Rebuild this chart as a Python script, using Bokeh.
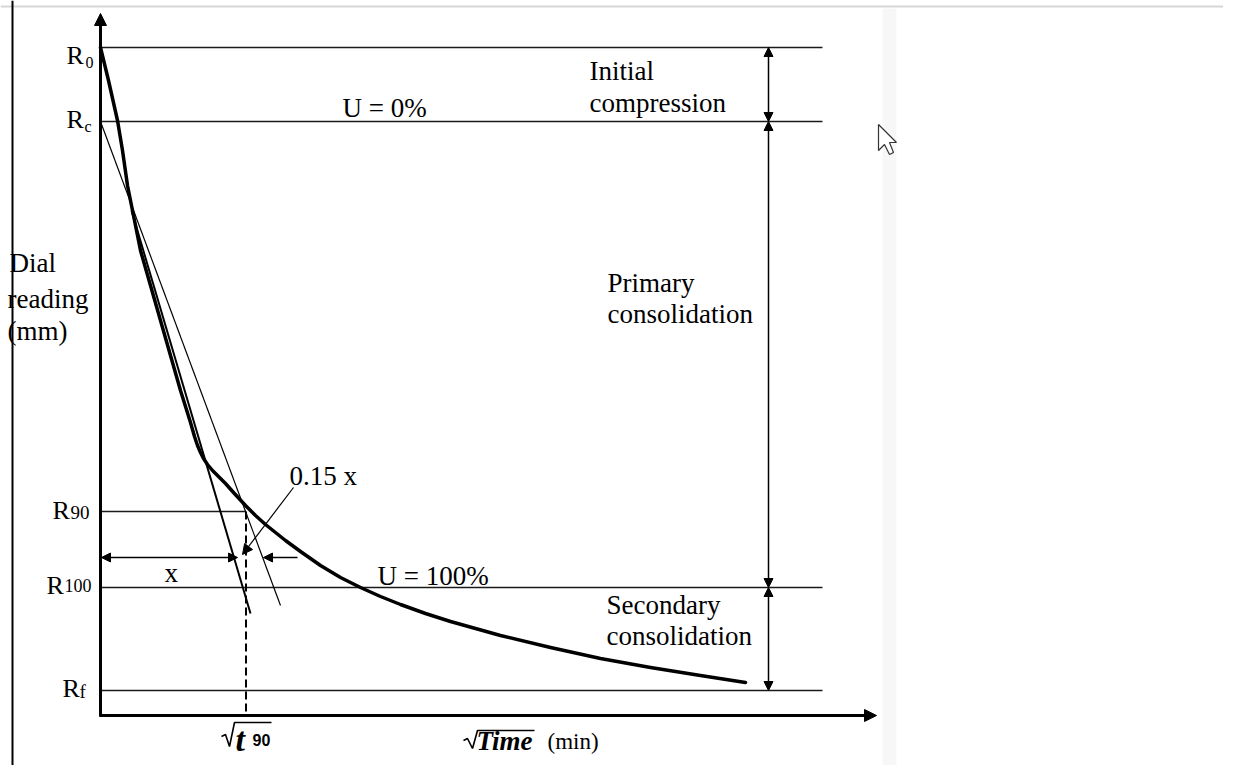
from bokeh.plotting import figure
from bokeh.models import Arrow, NormalHead
from bokeh.core.properties import value
from bokeh.embed import file_html
from bokeh.resources import INLINE

# ---------------- data (diagram units: sqrt-time to the right, dial reading downwards) -------------
LEVEL_NAMES = ["R", "R", "R", "R", "R"]
LEVEL_SUBS = ["0", "c", "90", "100", "f"]
LEVEL_READING = [47, 121, 511, 587, 690]          # R0, Rc, R90, R100, Rf
LEVEL_END = [822, 822, 245, 822, 822]            # where each reading line stops

CURVE_T = [100, 108, 117, 122, 127, 133, 140, 150, 160, 170, 180, 190, 194, 197, 200, 203,
           207, 212, 218, 225, 233, 245, 255, 265, 275, 285, 300, 320, 340, 360, 380, 400,
           425, 450, 475, 500, 550, 600, 650, 700, 745]
CURVE_R = [47, 80, 120, 150, 185, 215, 250, 285, 320, 355, 390, 422, 436, 445, 452, 458,
           464, 470, 476, 483, 492, 505, 515, 524, 532, 540, 551, 565, 577, 587, 596, 604,
           613, 621, 628, 635, 647, 658, 667, 675, 682]

TANGENT_T = [131, 250]      # tangent to initial straight part
TANGENT_R = [210, 613]
CORR_T = [100, 280]         # corrected line (1.15 x slope) from Rc
CORR_R = [121, 605]
T90 = 245.5

ZONE_TEXT = ["Initial", "compression", "Primary", "consolidation", "Secondary", "consolidation"]
NOTE_TEXT = ["U = 0%", "0.15 x", "x", "U = 100%"]
YLABEL = ["Dial", "reading", "(mm)"]

# ---------------- figure -------------
W, H = 1223, 765
p = figure(width=W, height=H, x_range=(0, W), y_range=(H, 0),
           x_axis_type=None, y_axis_type=None, toolbar_location=None,
           output_backend="svg", min_border=0)
p.grid.visible = False
p.outline_line_color = None
p.background_fill_color = "white"
p.border_fill_color = "white"

SERIF = value("Liberation Serif")
FS = "27px"
DY = -9   # text baseline correction


def shift(ys):
    return [y + DY for y in ys]


# page decorations
p.quad(left=882, right=896, top=8, bottom=H, color="#f7f7f7", line_color=None)
p.segment(x0=0, y0=6, x1=W, y1=6, line_color="#d6d6d6", line_width=2)
p.segment(x0=12, y0=0, x1=12, y1=H, line_color="black", line_width=2)

# reading lines
p.segment(x0=[100] * len(LEVEL_READING), y0=LEVEL_READING, x1=LEVEL_END, y1=LEVEL_READING,
          line_color="#1a1a1a", line_width=1.6)

# axes with arrow heads
AX_Y = 715
p.add_layout(Arrow(x_start=100, y_start=AX_Y + 1, x_end=100, y_end=13, line_width=3,
                   end=NormalHead(size=12, fill_color="black", line_color="black", line_width=1)))
p.add_layout(Arrow(x_start=99, y_start=AX_Y, x_end=876, y_end=AX_Y, line_width=3,
                   end=NormalHead(size=12, fill_color="black", line_color="black", line_width=1)))

# construction lines
p.line(CORR_T, CORR_R, line_color="black", line_width=1.2)
p.line(TANGENT_T, TANGENT_R, line_color="black", line_width=2)
p.segment(x0=T90, y0=LEVEL_READING[2], x1=T90, y1=AX_Y, line_color="black",
          line_width=2, line_dash="8 4")

# consolidation curve
p.line(CURVE_T, CURVE_R, line_color="black", line_width=3.5, line_join="round", line_cap="round")


def head(s=9):
    return NormalHead(size=s, fill_color="black", line_color="black", line_width=1)


def arrow(x0, y0, x1, y1, start=False, end=True, s=9, lw=1.5):
    p.add_layout(Arrow(x_start=x0, y_start=y0, x_end=x1, y_end=y1,
                       start=head(s) if start else None, end=head(s) if end else None,
                       line_width=lw, line_color="black"))


# right-hand zone arrows
ZX = 768
arrow(ZX, LEVEL_READING[0], ZX, LEVEL_READING[1], start=True, end=True)
arrow(ZX, LEVEL_READING[1], ZX, LEVEL_READING[3], start=True, end=True)
arrow(ZX, LEVEL_READING[3], ZX, LEVEL_READING[4], start=True, end=True)

# x and 0.15x arrows
AY = 557
arrow(101, AY, 237, AY, start=True, end=True)
arrow(297, AY, 263, AY)
arrow(293, 487, 242, 554, s=10, lw=1.2)

# level labels
p.text(x=[66, 66, 52, 46, 62], y=shift([64, 128, 519, 594, 697]), text=LEVEL_NAMES,
       text_font=SERIF, text_font_size="26px", text_baseline="alphabetic", text_color="black")
for sx, sy, st, ss in zip([85, 84, 70, 64, 79], [71, 135, 521, 594, 700], LEVEL_SUBS,
                          ["16px", "16px", "19px", "18px", "19px"]):
    p.text(x=[sx], y=[sy + DY], text=[st], text_font=SERIF, text_font_size=ss,
           text_baseline="alphabetic", text_color="black")

# zone texts
p.text(x=[589, 589, 607, 607, 606, 606], y=shift([79, 111, 291, 322, 613, 644]), text=ZONE_TEXT,
       text_font=SERIF, text_font_size=FS, text_baseline="alphabetic", text_color="black")
# notes
p.text(x=[342, 289, 164, 377], y=shift([116, 484, 581, 584]), text=NOTE_TEXT,
       text_font=SERIF, text_font_size=FS, text_baseline="alphabetic", text_color="black")
# y label
p.text(x=[9, 7, 7], y=shift([271, 307, 339]), text=YLABEL,
       text_font=SERIF, text_font_size=FS, text_baseline="alphabetic", text_color="black")

# x labels with radicals
p.line([221, 225, 229, 234, 271], [736, 734, 746, 722, 722], line_color="black", line_width=1.6)
p.text(x=[235], y=[746 + DY + 2], text=["t"], text_font=SERIF, text_font_size="34px",
       text_font_style="bold italic", text_baseline="alphabetic", text_color="black")
p.text(x=[252], y=[748 + DY], text=["90"], text_font=value("Liberation Sans"), text_font_size="16px",
       text_font_style="bold", text_baseline="alphabetic", text_color="black")
p.line([463, 467, 472, 477, 534], [740, 738, 748, 730, 730], line_color="black", line_width=1.6)
p.text(x=[476], y=[748 + DY + 1], text=["Time"], text_font=SERIF, text_font_size="27px",
       text_font_style="bold italic", text_baseline="alphabetic", text_color="black")
p.text(x=[547], y=[750 + DY], text=["(min)"], text_font=SERIF, text_font_size="23px",
       text_baseline="alphabetic", text_color="black")

# mouse pointer
cx, cy = 878, 124
p.patch([cx + d for d in [0, 0, 6, 11, 15, 11, 18]], [cy + d for d in [0, 26, 20, 30, 28, 18, 18]],
        fill_color="white", line_color="#333333", line_width=1.2)

open("out.html", "w").write(file_html(p, INLINE))
